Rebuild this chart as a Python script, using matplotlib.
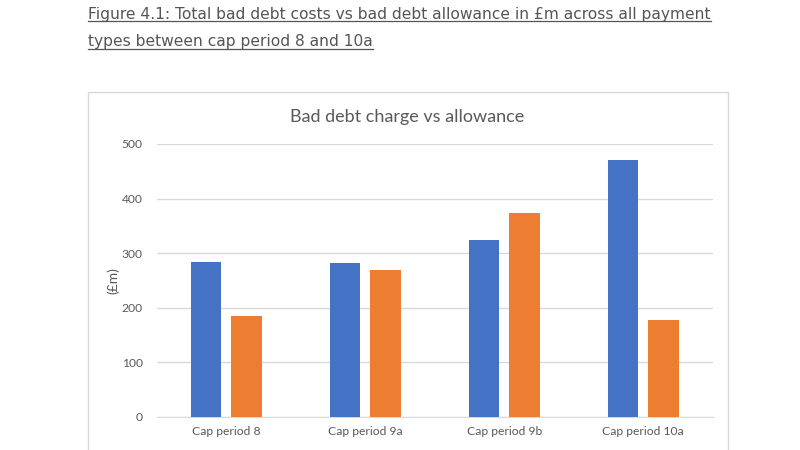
import numpy as np
import matplotlib.pyplot as plt
from matplotlib.patches import Rectangle
from matplotlib.lines import Line2D

categories = ['Cap period 8', 'Cap period 9a', 'Cap period 9b', 'Cap period 10a']
bad_debt_charge = [283, 281, 324, 470]
allowance = [185, 269, 373, 177]
y_ticks = [0, 100, 200, 300, 400, 500]

fig_title = ['Figure 4.1: Total bad debt costs vs bad debt allowance in £m across all payment',
             'types between cap period 8 and 10a']
chart_title = 'Bad debt charge vs allowance'

W, H = 800, 450
fig = plt.figure(figsize=(8, 4.5), dpi=100)
fig.patch.set_facecolor('white')

def px(x, y):
    return x / W, 1 - y / H

# chart border box
x0, y0 = px(87.5, 92.5)
x1, y1 = px(727.5, 460)
fig.add_artist(Rectangle((x0, y1), x1 - x0, y0 - y1, transform=fig.transFigure,
                         fill=False, edgecolor='#d9d9d9', linewidth=1.0))

# figure caption with underline
text_color = '#555555'
texts = []
for i, line in enumerate(fig_title):
    tx, ty = px(88, 18.5 + i * 27.5)
    t = fig.text(tx, ty, line, fontsize=11.2, color=text_color,
                 family='DejaVu Sans', va='baseline', ha='left')
    texts.append((t, ty))

ax = fig.add_axes([156.7 / W, 1 - 416.7 / H, 556 / W, (416.7 - 144) / H])
x = np.arange(len(categories))
bw = 0.22
off = 0.144
ax.bar(x - off, bad_debt_charge, bw, color='#4472c4', zorder=3)
ax.bar(x + off, allowance, bw, color='#ed7d31', zorder=3)

ax.set_xlim(-0.5, len(categories) - 0.5)
ax.set_ylim(0, 500)
ax.set_yticks(y_ticks)
ax.set_xticks(x)
ax.set_xticklabels(categories)
ax.grid(axis='y', color='#d9d9d9', linewidth=1.0, zorder=0)
for s in ['top', 'right', 'left']:
    ax.spines[s].set_visible(False)
ax.spines['bottom'].set_color('#d9d9d9')
ax.tick_params(axis='both', length=0, labelsize=8.7, colors='#595959', labelfontfamily='Lato')
ax.tick_params(axis='y', pad=10)
ax.tick_params(axis='x', pad=7)
ax.set_ylabel('(£m)', fontsize=10, color='#595959', family='Lato', labelpad=2)

fig.text(*px(407.5, 117), chart_title, fontsize=13, color='#595959',
         family='Lato', ha='center', va='center')

# underline the caption lines
fig.canvas.draw()
renderer = fig.canvas.get_renderer()
for t, ty in texts:
    bb = t.get_window_extent(renderer)
    fx0 = bb.x0 / W
    fx1 = bb.x1 / W
    uy = ty - 2.5 / H
    fig.add_artist(Line2D([fx0, fx1], [uy, uy], transform=fig.transFigure,
                          color=text_color, linewidth=0.9))

fig.savefig('out.png', dpi=100)
